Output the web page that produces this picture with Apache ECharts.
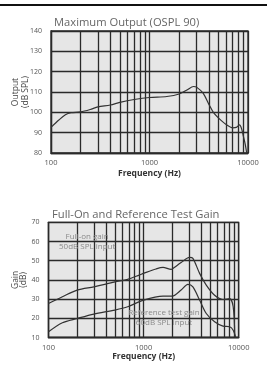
<!DOCTYPE html>
<html><head><meta charset="utf-8">
<script src="https://cdn.jsdelivr.net/npm/echarts@6/dist/echarts.min.js"></script>
<style>html,body{margin:0;padding:0;background:#fff}#c{width:267px;height:373px}</style>
</head><body><div id="c"></div>
<script>
// Chart 1: Maximum Output (OSPL 90)
const ospl90Freq = [100,120,140,160,200,250,300,400,500,700,1000,1500,2000,2400,2800,3000,3500,4000,4450,5000,6000,7000,7600,8200,8600,9000,9400,9700];
const ospl90 = [92.6,96.2,98.8,99.8,100.2,101.4,102.7,103.6,104.9,106.3,107.3,107.8,109.0,111.0,112.7,112.4,109.4,104.0,100.0,97.3,94.0,92.4,92.6,93.8,92.0,88.0,84.0,80.0];
// Chart 2: Full-On and Reference Test Gain
const fullOnFreq = [100,140,200,300,400,500,680,900,1000,1350,1600,1950,2000,2480,3040,3300,3880,4560,5580,6840,8040,8750,9100];
const fullOnGain = [27.7,31.2,34.7,36.4,37.8,39.0,40.3,42.5,43.4,45.7,46.5,45.5,45.7,49.0,51.7,51.2,43.4,37.3,32.0,29.8,30.2,26.0,10.3];
const refFreq = [100,140,200,300,500,680,1000,1600,2000,2480,2920,3300,3880,4560,5580,6840,8040,8750,9300];
const refGain = [13.0,17.7,19.9,22.2,24.3,26.0,29.5,31.6,31.6,34.7,37.7,36.4,29.5,22.5,18.2,15.9,15.6,13.8,10.0];
// tick / grid values
const minorFreqs = [200,300,400,500,600,700,800,900,2000,3000,4000,5000,6000,7000,8000,9000];
const outTicks = {min:80, max:140, interval:10};
const gainTicks = {min:10, max:70, interval:10};
const titles = ['Maximum Output (OSPL 90)', 'Full-On and Reference Test Gain'];
const yNames = ['Output\n(dB SPL)', 'Gain\n(dB)'];
const xName = 'Frequency (Hz)';
const notes = [
  {text:'Full-on gain\n50dB SPL input', coord:[255,59.8]},
  {text:'Reference test gain\n60dB SPL input', coord:[1640,20.3]}
];

const FONT = '"Open Sans", sans-serif';
const GRIDC = '#2a2a2a';
const chart = echarts.init(document.getElementById('c'), null, {renderer:'canvas'});
const zip = (a,b)=>a.map((v,i)=>[v,b[i]]);
const gridLine = {color:GRIDC, width:1.3};
const minorLines = {
  silent:true, symbol:['none','none'], label:{show:false},
  lineStyle:{color:GRIDC, width:1.3, type:'solid'},
  emphasis:{disabled:true},
  data: minorFreqs.map(f=>({xAxis:f}))
};
function xAx(i){
  return {type:'log', logBase:10, min:100, max:10000, gridIndex:i,
    name:xName, nameLocation:'middle', nameGap: i===0?16:15, nameMoveOverlap:false,
    nameTextStyle:{fontFamily:FONT, fontSize:8.5, fontWeight:'bold', color:'#333'},
    axisLine:{show:true, lineStyle:{color:GRIDC, width:1.3}},
    axisTick:{show:false},
    axisLabel:{fontFamily:FONT, fontSize:7.5, color:'#555', margin:6, formatter:v=>String(Math.round(v))},
    splitLine:{show:true, lineStyle:gridLine}};
}
function yAx(i,t){
  return {type:'value', gridIndex:i, min:t.min, max:t.max, interval:t.interval,
    name:yNames[i], nameLocation:'middle', nameRotate:90, nameGap: i===0?20:21, nameMoveOverlap:false,
    nameTextStyle:{fontFamily:FONT, fontSize:8.5, color:'#444', lineHeight: i===0?10:8},
    axisLine:{show:true, lineStyle:{color:GRIDC, width:1.3}},
    axisTick:{show:false},
    axisLabel:{fontFamily:FONT, fontSize:7, color:'#555', margin:9},
    splitLine:{show:true, lineStyle:gridLine}};
}
const lineStyle = {color:'#333', width:1.2};
chart.setOption({
  animation:false,
  backgroundColor:'#fff',
  title:[
    {text:titles[0], left:49, top:12, textStyle:{fontFamily:FONT, fontSize:11.2, fontWeight:'normal', color:'#666'}},
    {text:titles[1], left:47, top:204, textStyle:{fontFamily:FONT, fontSize:11.2, fontWeight:'normal', color:'#666'}}
  ],
  graphic:[{type:'line', shape:{x1:0,y1:5,x2:267,y2:5}, style:{stroke:'#111', lineWidth:2}}],
  grid:[
    {left:51, top:31, width:197, height:122, show:true, backgroundColor:'#e6e6e6', borderColor:GRIDC, borderWidth:1.3, outerBoundsMode:'none', containLabel:false},
    {left:48.5, top:222.3, width:190.2, height:115.2, show:true, backgroundColor:'#e6e6e6', borderColor:GRIDC, borderWidth:1.3, outerBoundsMode:'none', containLabel:false}
  ],
  xAxis:[xAx(0), xAx(1)],
  yAxis:[yAx(0,outTicks), yAx(1,gainTicks)],
  series:[
    {type:'line', xAxisIndex:0, yAxisIndex:0, data:zip(ospl90Freq,ospl90), smooth:0.3, showSymbol:false, lineStyle, markLine:minorLines, z:5},
    {type:'line', xAxisIndex:1, yAxisIndex:1, data:zip(fullOnFreq,fullOnGain), smooth:0.3, showSymbol:false, lineStyle, markLine:minorLines, z:5,
      markPoint:{symbol:'circle', symbolSize:0, silent:true,
        label:{show:true, position:'inside', fontFamily:FONT, fontSize:8, color:'#8a8a8a', lineHeight:10.5, formatter:p=>p.name},
        data:notes.map(n=>({name:n.text, coord:n.coord}))}},
    {type:'line', xAxisIndex:1, yAxisIndex:1, data:zip(refFreq,refGain), smooth:0.3, showSymbol:false, lineStyle, z:5}
  ]
});
</script></body></html>
